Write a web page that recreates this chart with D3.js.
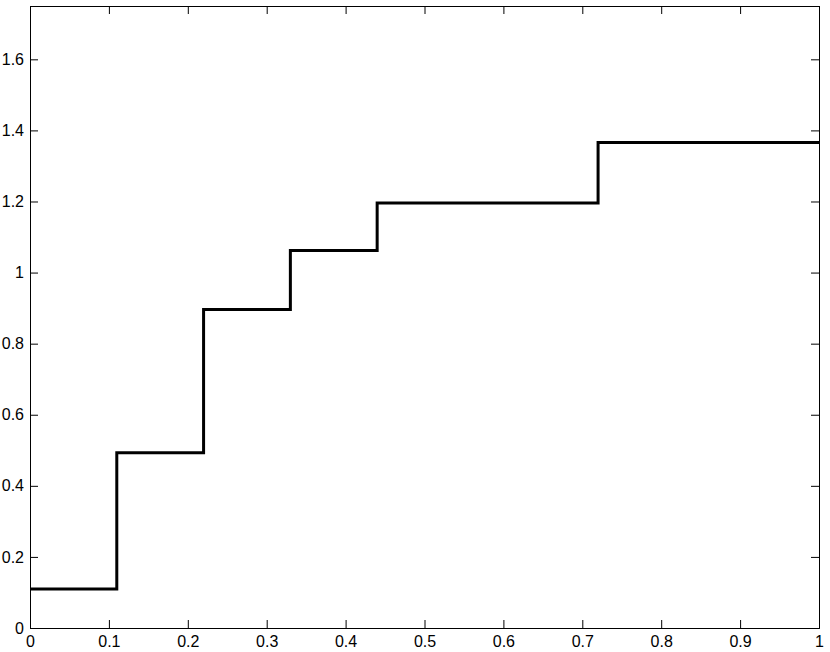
<!DOCTYPE html>
<html>
<head>
<meta charset="utf-8">
<script src="https://cdn.jsdelivr.net/npm/d3@7"></script>
<style>
    body { margin: 0; background: #fff; }
    svg text { font-family: "Liberation Sans", Arial, sans-serif; font-size: 16px; fill: #000; }
</style>
</head>
<body>
<svg id="chart" width="830" height="652"></svg>
<script>
// step breakpoints (x) and the level held after each one
const stepX = [0, 0.11, 0.22, 0.33, 0.44, 0.72, 1];
const stepY = [0.11, 0.493, 0.896, 1.062, 1.196, 1.366, 1.366];
const xTicks = [0, 0.1, 0.2, 0.3, 0.4, 0.5, 0.6, 0.7, 0.8, 0.9, 1];
const yTicks = [0, 0.2, 0.4, 0.6, 0.8, 1, 1.2, 1.4, 1.6];

const svg = d3.select('#chart');
const margin = {left: 30, right: 11, top: 6, bottom: 24};
const width = 830 - margin.left - margin.right;
const height = 652 - margin.top - margin.bottom;

const x = d3.scaleLinear().domain([0, 1]).range([0, width]);
const y = d3.scaleLinear().domain([0, 1.75]).range([height, 0]);

const g = svg.append('g').attr('transform', `translate(${margin.left},${margin.top})`);

// axes, matlab style: ticks inside, mirrored on top/right
const tickLen = 8;
g.append('g')
    .attr('transform', `translate(0,${height})`)
    .call(d3.axisBottom(x).tickValues(xTicks).tickFormat(d3.format('')).tickSize(-tickLen).tickPadding(8));
g.append('g')
    .call(d3.axisTop(x).tickValues(xTicks).tickFormat('').tickSize(-tickLen));
g.append('g')
    .call(d3.axisLeft(y).tickValues(yTicks).tickFormat(d3.format('')).tickSize(-tickLen).tickPadding(6));
g.append('g')
    .attr('transform', `translate(${width},0)`)
    .call(d3.axisRight(y).tickValues(yTicks).tickFormat('').tickSize(-tickLen));

g.selectAll('.domain').attr('stroke', '#000').attr('stroke-width', 1);
g.selectAll('.tick line').attr('stroke', '#000');
g.selectAll('.tick text').style('font-family', '"Liberation Sans", Arial, sans-serif').style('font-size', '16px');

// the stairs
const line = d3.line()
    .x((d, i) => x(stepX[i]))
    .y(d => y(d))
    .curve(d3.curveStepAfter);
g.append('path')
    .datum(stepY)
    .attr('fill', 'none')
    .attr('stroke', '#000')
    .attr('stroke-width', 3)
    .attr('d', line);
</script>
</body>
</html>
